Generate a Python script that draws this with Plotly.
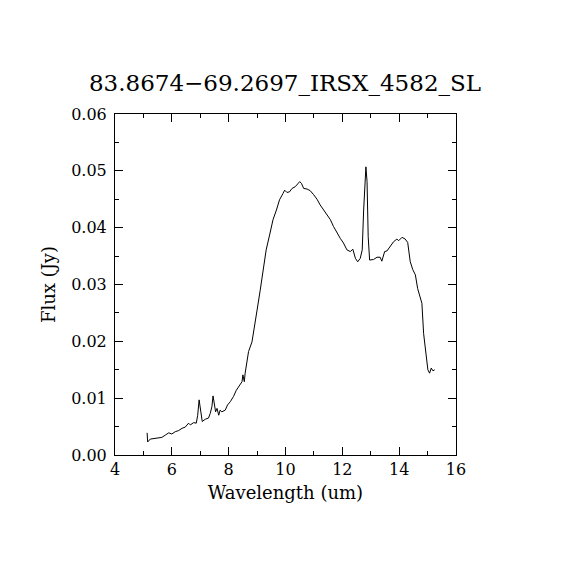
import plotly.graph_objects as go

wavelength = [5.13, 5.15, 5.24, 5.42, 5.65, 5.77, 5.89, 6.00, 6.12, 6.24, 6.36, 6.47, 6.59, 6.65,
              6.77, 6.86, 6.91, 6.96, 7.00, 7.04, 7.07, 7.18, 7.29, 7.35, 7.41, 7.45, 7.49, 7.54,
              7.59, 7.65, 7.70, 7.76, 7.88, 7.96, 8.06, 8.17, 8.27, 8.38, 8.47, 8.50, 8.55, 8.58,
              8.62, 8.70, 8.82, 8.88, 9.00, 9.11, 9.23, 9.32, 9.44, 9.56, 9.68, 9.79, 9.91, 9.97,
              10.05, 10.14, 10.23, 10.34, 10.43, 10.50, 10.56, 10.64, 10.76, 10.87, 10.99, 11.11,
              11.22, 11.34, 11.46, 11.58, 11.69, 11.81, 11.93, 12.04, 12.16, 12.28, 12.37, 12.46,
              12.54, 12.63, 12.70, 12.75, 12.80, 12.83, 12.87, 12.91, 12.96, 13.10, 13.22, 13.33,
              13.39, 13.49, 13.57, 13.69, 13.80, 13.92, 13.98, 14.10, 14.21, 14.30, 14.39, 14.48,
              14.57, 14.65, 14.74, 14.80, 14.86, 14.95, 15.01, 15.07, 15.13, 15.19, 15.25]
flux = [0.0039, 0.0023, 0.0028, 0.0029, 0.0031, 0.0035, 0.0039, 0.0037, 0.0041, 0.0043, 0.0047,
        0.0049, 0.0056, 0.0053, 0.0057, 0.0056, 0.0070, 0.0097, 0.0085, 0.0067, 0.0059, 0.0063,
        0.0065, 0.0073, 0.0085, 0.0104, 0.0091, 0.0076, 0.0082, 0.0070, 0.0079, 0.0076, 0.0079,
        0.0088, 0.0094, 0.0103, 0.0114, 0.0123, 0.0129, 0.0141, 0.0129, 0.0144, 0.0160, 0.0182,
        0.0199, 0.0220, 0.0255, 0.0290, 0.0326, 0.0361, 0.0387, 0.0414, 0.0431, 0.0449, 0.0460,
        0.0466, 0.0462, 0.0463, 0.0469, 0.0472, 0.0477, 0.0481, 0.0478, 0.0469, 0.0468, 0.0465,
        0.0458, 0.0450, 0.0440, 0.0431, 0.0422, 0.0414, 0.0402, 0.0391, 0.0381, 0.0373, 0.0361,
        0.0358, 0.0362, 0.0346, 0.0340, 0.0346, 0.0361, 0.0431, 0.0481, 0.0507, 0.0481, 0.0384,
        0.0343, 0.0344, 0.0348, 0.0348, 0.0341, 0.0358, 0.0359, 0.0368, 0.0375, 0.0380, 0.0377,
        0.0383, 0.0380, 0.0374, 0.0340, 0.0326, 0.0317, 0.0293, 0.0279, 0.0267, 0.0214, 0.0173,
        0.0150, 0.0144, 0.0153, 0.0148, 0.0150]

title_text = "83.8674\u221269.2697_IRSX_4582_SL"
FONT = "DejaVu Serif"

fig = go.Figure()
fig.add_trace(go.Scatter(x=wavelength, y=flux, mode="lines",
                         line=dict(color="black", width=1), showlegend=False))

axis_common = dict(
    showgrid=False, zeroline=False, showline=True, linecolor="black", linewidth=1,
    mirror="allticks", ticks="inside", ticklen=8, tickcolor="black", tickwidth=1,
    tickfont=dict(family=FONT, size=16, color="black"),
)

fig.update_xaxes(range=[4, 16], dtick=2, tick0=4,
                 minor=dict(dtick=1, ticks="inside", ticklen=4, tickcolor="black"),
                 title=dict(text="Wavelength (um)", font=dict(family=FONT, size=18, color="black"),
                            standoff=8),
                 **axis_common)
fig.update_yaxes(range=[0, 0.06], dtick=0.01, tick0=0, tickformat=".2f",
                 minor=dict(dtick=0.005, ticks="inside", ticklen=4, tickcolor="black"),
                 ticklabelstandoff=4,
                 title=dict(text="Flux (Jy)", font=dict(family=FONT, size=18, color="black"),
                            standoff=10),
                 **axis_common)

fig.update_layout(
    width=570, height=570,
    margin=dict(l=107, r=122, t=106, b=123),
    paper_bgcolor="white", plot_bgcolor="white",
    title=dict(text=title_text, x=277 / 570, xanchor="center", y=1 - 75 / 570, yanchor="middle",
               font=dict(family=FONT, size=23, color="black")),
)

fig.write_html("out.html")
